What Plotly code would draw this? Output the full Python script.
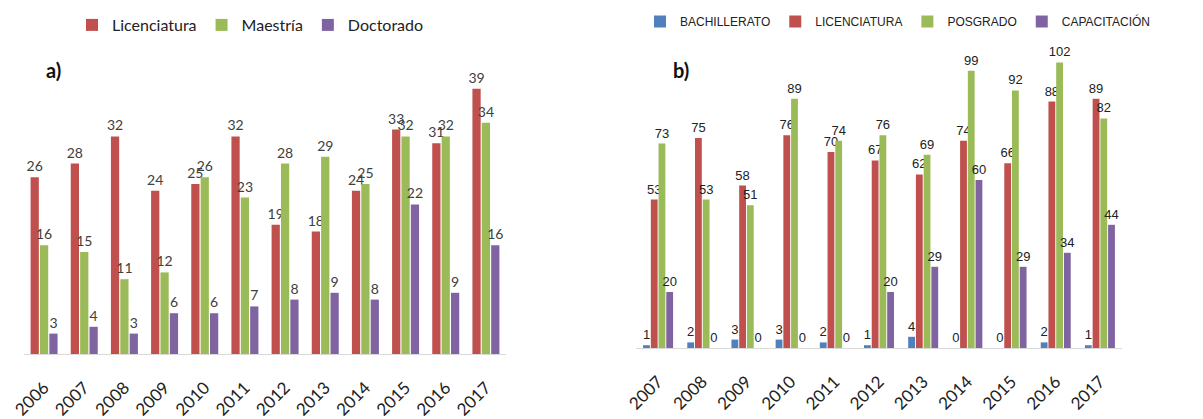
import plotly.graph_objects as go

# ---- data: panel a) ----
years_a = ["2006", "2007", "2008", "2009", "2010", "2011", "2012", "2013", "2014", "2015", "2016", "2017"]
licenciatura_a = [26, 28, 32, 24, 25, 32, 19, 18, 24, 33, 31, 39]
maestria_a = [16, 15, 11, 12, 26, 23, 28, 29, 25, 32, 32, 34]
doctorado_a = [3, 4, 3, 6, 6, 7, 8, 9, 8, 22, 9, 16]

# ---- data: panel b) ----
years_b = ["2007", "2008", "2009", "2010", "2011", "2012", "2013", "2014", "2015", "2016", "2017"]
bachillerato_b = [1, 2, 3, 3, 2, 1, 4, 0, 0, 2, 1]
licenciatura_b = [53, 75, 58, 76, 70, 67, 62, 74, 66, 88, 89]
posgrado_b = [73, 53, 51, 89, 74, 76, 69, 99, 92, 102, 82]
capacitacion_b = [20, 0, 0, 0, 0, 20, 29, 60, 29, 34, 44]

RED = "#C0504D"
GREEN = "#9BBB59"
PURPLE = "#8064A2"
BLUE = "#4F81BD"

W, H = 1203, 419
FONT_A = "Lato, 'Open Sans', sans-serif"
FONT_B = "'Liberation Sans', Arial, sans-serif"

fig = go.Figure()

def add_bar(x, y, name, color, xa, ya, legend, font, size, tcolor):
    fig.add_trace(go.Bar(
        x=x, y=y, name=name, marker=dict(color=color, line=dict(width=0)),
        xaxis=xa, yaxis=ya, legend=legend,
        text=[str(v) for v in y], textposition="outside", cliponaxis=False,
        constraintext="none",
        textfont=dict(family=font, size=size, color=tcolor),
    ))

add_bar(years_a, licenciatura_a, "Licenciatura", RED, "x", "y", "legend", FONT_A, 14, "#404040")
add_bar(years_a, maestria_a, "Maestría", GREEN, "x", "y", "legend", FONT_A, 14, "#404040")
add_bar(years_a, doctorado_a, "Doctorado", PURPLE, "x", "y", "legend", FONT_A, 14, "#404040")

add_bar(years_b, bachillerato_b, "BACHILLERATO", BLUE, "x2", "y2", "legend2", FONT_B, 13, "#222222")
add_bar(years_b, licenciatura_b, "LICENCIATURA", RED, "x2", "y2", "legend2", FONT_B, 13, "#222222")
add_bar(years_b, posgrado_b, "POSGRADO", GREEN, "x2", "y2", "legend2", FONT_B, 13, "#222222")
add_bar(years_b, capacitacion_b, "CAPACITACIÓN", PURPLE, "x2", "y2", "legend2", FONT_B, 13, "#222222")

# geometry
base_a = 354
base_b = 348
top_px = 50
ymax_a = (base_a - top_px) / 6.8
ymax_b = (base_b - top_px) / 2.8

fig.update_layout(
    width=W, height=H,
    margin=dict(l=0, r=0, t=0, b=0, autoexpand=False),
    paper_bgcolor="white", plot_bgcolor="white",
    barmode="group", bargap=0.3, bargroupgap=0.12,
    font=dict(family=FONT_A, color="#222222"),
    xaxis=dict(domain=[24 / W, 506 / W], anchor="y", showgrid=False, automargin=False,
               showline=True, linecolor="#D9D9D9", linewidth=1, ticks="",
               tickangle=-45, tickfont=dict(family=FONT_A, size=17, color="#222222"),
               ticklabelstandoff=16, fixedrange=True),
    yaxis=dict(domain=[(H - base_a) / H, (H - top_px) / H], anchor="x", automargin=False,
               range=[0, ymax_a], visible=False, fixedrange=True),
    xaxis2=dict(domain=[636 / W, 1122 / W], anchor="y2", showgrid=False, automargin=False,
                showline=True, linecolor="#D9D9D9", linewidth=1, ticks="",
                tickangle=-45, tickfont=dict(family=FONT_A, size=17, color="#222222"),
                ticklabelstandoff=16, fixedrange=True),
    yaxis2=dict(domain=[(H - base_b) / H, (H - top_px) / H], anchor="x2", automargin=False,
                range=[0, ymax_b], visible=False, fixedrange=True),
    legend=dict(orientation="h", x=72 / W, y=1 - 8 / H, xanchor="left", yanchor="top",
                font=dict(family=FONT_A, size=16, color="#222222"),
                bgcolor="rgba(0,0,0,0)", itemwidth=30, traceorder="normal"),
    legend2=dict(orientation="h", x=640 / W, y=1 - 7 / H, xanchor="left", yanchor="top",
                 font=dict(family=FONT_B, size=12, color="#222222"),
                 bgcolor="rgba(0,0,0,0)", itemwidth=30, traceorder="normal"),
    annotations=[
        dict(text="<b>a)</b>", x=44 / W, y=1 - 70 / H, xref="paper", yref="paper",
             xanchor="left", yanchor="middle", showarrow=False,
             font=dict(family=FONT_A, size=20, color="#111111")),
        dict(text="<b>b)</b>", x=671 / W, y=1 - 70 / H, xref="paper", yref="paper",
             xanchor="left", yanchor="middle", showarrow=False,
             font=dict(family=FONT_A, size=20, color="#111111")),
    ],
)

fig.write_html("out.html", config={"displayModeBar": False},
               post_script="document.body.style.margin='0';")
